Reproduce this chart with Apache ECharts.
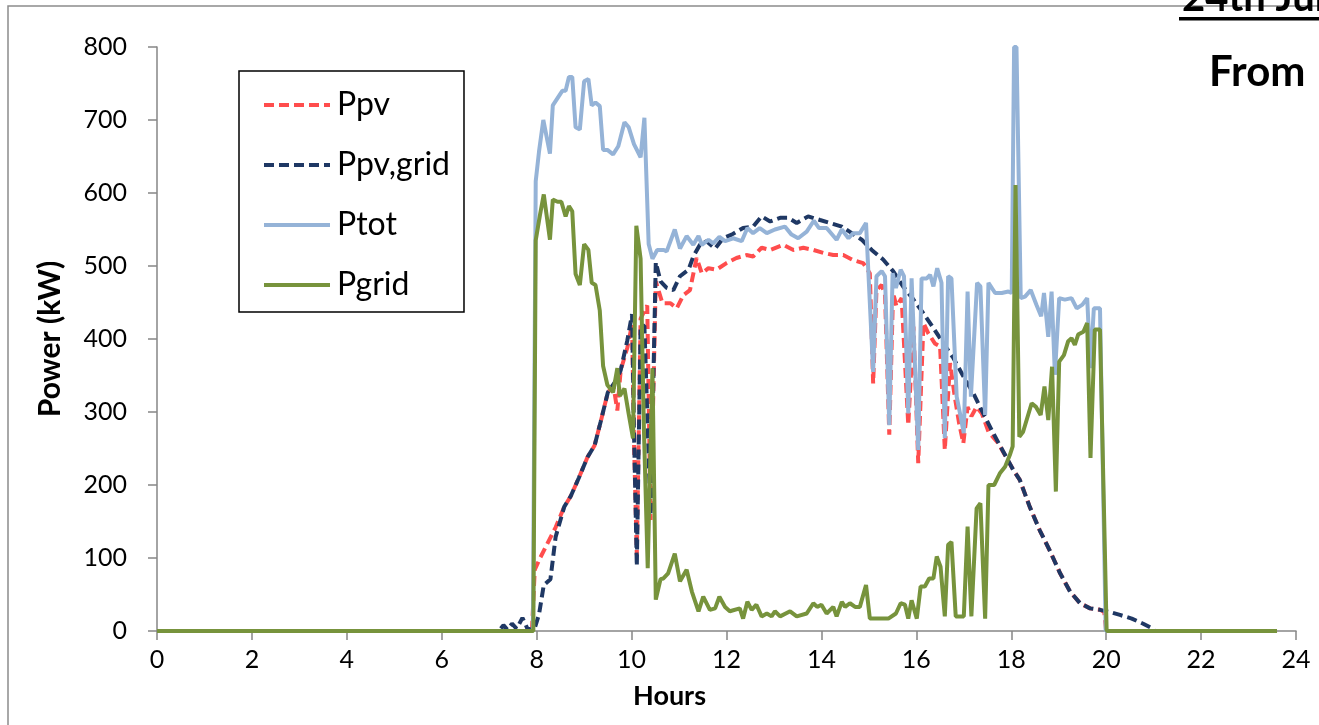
<!DOCTYPE html>
<html>
<head>
<meta charset="utf-8">
<title>Power</title>
<script src="https://cdn.jsdelivr.net/npm/echarts@6/dist/echarts.min.js"></script>
<style>
  html, body { margin: 0; padding: 0; background: #fff; }
  #main { width: 1319px; height: 725px; }
</style>
</head>
<body>
<div id="main"></div>
<script>
// ---------- 数据 (小时, kW) ----------
const xTicks = [0, 2, 4, 6, 8, 10, 12, 14, 16, 18, 20, 22, 24];
const yTicks = [0, 100, 200, 300, 400, 500, 600, 700, 800];

const ppv = [
  [0,0],[7.9,0],[7.96,84],[8.08,101],[8.22,119],[8.40,142],[8.58,170],[8.72,185],[8.89,210],
  [9.07,238],[9.22,254],[9.35,287],[9.50,327],[9.62,335],[9.70,302],[9.77,357],[9.91,388],
  [10.01,420],[10.05,261],[10.11,104],[10.19,428],[10.33,446],[10.40,152],[10.51,479],[10.65,449],
  [10.82,449],[10.95,442],[11.09,460],[11.23,467],[11.37,511],[11.48,490],[11.62,497],[11.79,495],
  [12.00,504],[12.21,511],[12.42,515],[12.56,513],[12.74,525],[12.92,522],[13.20,529],[13.41,522],
  [13.62,525],[13.83,522],[14.04,518],[14.25,515],[14.46,515],[14.67,508],[14.88,504],[15.02,490],
  [15.09,339],[15.16,467],[15.27,474],[15.34,460],[15.43,269],[15.51,463],[15.58,445],[15.69,456],
  [15.83,282],[15.94,417],[16.04,230],[16.15,422],[16.25,408],[16.39,394],[16.50,390],[16.60,248],
  [16.71,367],[16.81,321],[16.90,285],[16.99,257],[17.08,307],[17.16,294],[17.27,307],[17.38,298],
  [17.52,273],[17.73,257],[17.90,237],[18.04,221],[18.18,207],[18.39,170],[18.60,138],[18.82,109],
  [19.03,79],[19.24,54],[19.45,38],[19.66,31],[19.87,29],[19.96,26],[20.0,0],[23.6,0]
];

const ppvGrid = [
  [0,0],[7.2,0],[7.3,8],[7.38,2],[7.48,10],[7.58,3],[7.7,18],[7.8,4],[7.94,0],[8.05,23],
  [8.15,63],[8.29,71],[8.40,129],[8.58,170],[8.72,185],[8.89,210],[9.07,238],[9.22,254],[9.35,287],
  [9.50,327],[9.66,342],[9.77,357],[9.91,398],[10.01,434],[10.05,276],[10.11,89],[10.19,418],
  [10.27,418],[10.40,158],[10.51,505],[10.61,479],[10.74,470],[10.88,467],[11.02,486],[11.20,495],
  [11.30,513],[11.44,529],[11.58,534],[11.76,524],[11.93,538],[12.11,543],[12.35,552],[12.56,554],
  [12.74,568],[12.92,561],[13.13,566],[13.30,566],[13.48,559],[13.72,568],[13.97,563],[14.18,559],
  [14.43,554],[14.64,545],[14.85,536],[15.06,522],[15.30,509],[15.51,493],[15.72,472],[15.94,454],
  [16.15,435],[16.36,415],[16.57,394],[16.78,374],[16.99,349],[17.20,326],[17.41,298],[17.62,271],
  [17.83,246],[18.04,221],[18.18,207],[18.39,170],[18.60,138],[18.82,109],[19.03,79],[19.24,54],
  [19.45,38],[19.66,31],[19.87,29],[20.08,26],[20.29,22],[20.54,17],[20.78,10],[20.96,4],[21.03,0],[23.6,0]
];

const ptot = [
  [0,0],[7.92,0],[7.98,616],[8.05,657],[8.14,700],[8.28,654],[8.34,720],[8.44,730],[8.54,740],
  [8.61,740],[8.68,759],[8.75,759],[8.82,690],[8.91,687],[9.0,753],[9.09,756],[9.16,720],[9.24,724],
  [9.33,719],[9.40,659],[9.49,659],[9.61,653],[9.72,664],[9.85,697],[9.94,690],[10.05,667],[10.19,649],
  [10.27,703],[10.36,530],[10.44,510],[10.54,522],[10.68,522],[10.74,520],[10.91,550],[11.02,524],
  [11.16,541],[11.30,529],[11.41,541],[11.48,529],[11.62,536],[11.72,531],[11.85,540],[11.97,534],
  [12.14,538],[12.32,534],[12.44,552],[12.56,545],[12.70,552],[12.85,545],[13.02,550],[13.23,554],
  [13.37,543],[13.51,538],[13.69,547],[13.84,562],[13.95,552],[14.11,552],[14.32,536],[14.43,550],
  [14.57,538],[14.67,545],[14.81,545],[14.94,559],[15.09,355],[15.16,486],[15.27,493],[15.34,486],
  [15.43,282],[15.50,490],[15.57,470],[15.67,495],[15.74,486],[15.83,298],[15.90,483],[16.04,248],
  [16.11,483],[16.22,483],[16.29,488],[16.36,472],[16.44,497],[16.53,477],[16.60,264],[16.67,486],
  [16.74,483],[16.85,321],[16.92,298],[17.00,271],[17.08,465],[17.15,321],[17.28,477],[17.35,472],
  [17.45,296],[17.52,477],[17.66,463],[17.80,463],[17.94,465],[18.01,463],[18.06,800],[18.11,800],
  [18.20,456],[18.29,458],[18.41,467],[18.53,447],[18.63,431],[18.69,463],[18.78,403],[18.85,465],
  [18.92,351],[19.01,456],[19.13,454],[19.27,456],[19.38,442],[19.50,447],[19.60,456],[19.67,360],
  [19.74,442],[19.87,442],[19.99,0],[23.6,0]
];

const pgrid = [
  [0,0],[7.93,0],[7.98,535],[8.07,570],[8.15,598],[8.28,536],[8.34,591],[8.44,588],[8.52,588],
  [8.61,568],[8.68,582],[8.75,575],[8.82,489],[8.91,474],[9.0,530],[9.09,522],[9.16,477],[9.24,474],
  [9.33,439],[9.40,363],[9.49,337],[9.61,327],[9.70,360],[9.75,322],[9.85,332],[9.94,297],[10.03,264],
  [10.10,555],[10.19,510],[10.26,276],[10.34,86],[10.44,360],[10.51,43],[10.61,71],[10.67,72],
  [10.77,79],[10.91,106],[11.02,68],[11.16,84],[11.27,54],[11.41,27],[11.51,47],[11.65,29],[11.76,31],
  [11.85,47],[11.97,33],[12.07,27],[12.28,31],[12.35,17],[12.44,40],[12.53,29],[12.63,36],[12.74,20],
  [12.85,24],[12.95,20],[13.02,27],[13.13,20],[13.34,27],[13.48,20],[13.69,24],[13.83,38],[13.91,33],
  [14.00,36],[14.11,24],[14.25,33],[14.32,20],[14.43,40],[14.50,33],[14.60,38],[14.71,33],[14.81,33],
  [14.94,63],[15.02,17],[15.41,17],[15.57,24],[15.67,38],[15.76,36],[15.83,17],[15.90,42],[16.01,17],
  [16.09,61],[16.18,61],[16.27,72],[16.36,72],[16.43,102],[16.51,88],[16.60,20],[16.67,118],[16.74,122],
  [16.83,20],[17.00,20],[17.08,143],[17.16,20],[17.27,168],[17.35,175],[17.45,17],[17.52,200],[17.64,200],
  [17.76,216],[17.87,225],[17.97,241],[18.03,253],[18.09,611],[18.17,266],[18.25,273],[18.43,312],
  [18.52,307],[18.62,296],[18.70,335],[18.78,289],[18.86,362],[18.94,191],[19.01,369],[19.11,378],
  [19.20,397],[19.27,401],[19.34,392],[19.41,406],[19.52,410],[19.60,422],[19.67,237],[19.76,413],
  [19.87,413],[20.01,0],[23.6,0]
];

const seriesNames = ["Ppv", "Ppv,grid", "Ptot", "Pgrid"];

// ---------- 样式 ----------
const FONT = "Lato, 'Noto Sans', sans-serif";
const AXIS_GRAY = "#868686";

function lineSeries(name, data, color, dashed) {
  return {
    name: name,
    type: "line",
    data: data,
    symbol: "none",
    showSymbol: false,
    animation: false,
    lineStyle: { color: color, width: 4, type: dashed ? [10, 5] : "solid" },
    itemStyle: { color: color }
  };
}

const chart = echarts.init(document.getElementById("main"), null, { renderer: "canvas" });

chart.setOption({
  backgroundColor: "#fff",
  animation: false,
  textStyle: { fontFamily: FONT },
  grid: { left: 157, right: 23, top: 47, bottom: 94, containLabel: false },
  legend: {
    data: seriesNames,
    orient: "vertical",
    left: 239,
    top: 71,
    itemWidth: 66,
    itemHeight: 30,
    itemGap: 28,
    padding: [18, 14, 11, 23],
    borderColor: "#000",
    borderWidth: 1.5,
    // 图例里不要圆点, 只留线
    itemStyle: { opacity: 0 },
    lineStyle: { width: 4 },
    textStyle: { fontFamily: FONT, fontSize: 32, color: "#000", width: 127, padding: [0, 0, 0, 2] }
  },
  xAxis: {
    type: "value",
    min: xTicks[0],
    max: xTicks[xTicks.length - 1],
    interval: 2,
    axisLine: { show: true, lineStyle: { color: AXIS_GRAY, width: 1.5 } },
    axisTick: { show: true, length: 9, lineStyle: { color: AXIS_GRAY, width: 1.5 } },
    axisLabel: { fontFamily: FONT, fontSize: 25, color: "#000", margin: 16 },
    splitLine: { show: false }
  },
  yAxis: {
    type: "value",
    min: yTicks[0],
    max: yTicks[yTicks.length - 1],
    interval: 100,
    name: "Power (kW)",
    nameLocation: "middle",
    nameGap: 92,
    nameTextStyle: { fontFamily: FONT, fontSize: 30, fontWeight: "bold", color: "#000" },
    axisLine: { show: true, lineStyle: { color: AXIS_GRAY, width: 1.5 } },
    axisTick: { show: true, length: 9, lineStyle: { color: AXIS_GRAY, width: 1.5 } },
    axisLabel: { fontFamily: FONT, fontSize: 25, color: "#000", margin: 30 },
    splitLine: { show: false }
  },
  series: [
    lineSeries(seriesNames[0], ppv, "#FF4D4D", true),
    lineSeries(seriesNames[1], ppvGrid, "#1F3864", true),
    lineSeries(seriesNames[2], ptot, "#95B3D7", false),
    lineSeries(seriesNames[3], pgrid, "#77933C", false)
  ],
  graphic: [
    // 外框 (左边和上边)
    { type: "rect", z: -1, shape: { x: 8, y: 6, width: 1400, height: 800 },
      style: { fill: null, stroke: "#8c8c8c", lineWidth: 1.5 } },
    { type: "text", left: 633, top: 683,
      style: { text: "Hours", font: "bold 27px " + FONT, fill: "#000" } },
    { type: "text", x: 1182, y: -2,
      style: { text: "24th June", font: "bold 40px " + FONT, fill: "#000", verticalAlign: "middle" } },
    { type: "rect", shape: { x: 1179, y: 17, width: 200, height: 3.5 }, style: { fill: "#000" } },
    { type: "text", x: 1209, y: 72,
      style: { text: "From", font: "bold 42px " + FONT, fill: "#000", verticalAlign: "middle" } }
  ]
});
</script>
</body>
</html>
